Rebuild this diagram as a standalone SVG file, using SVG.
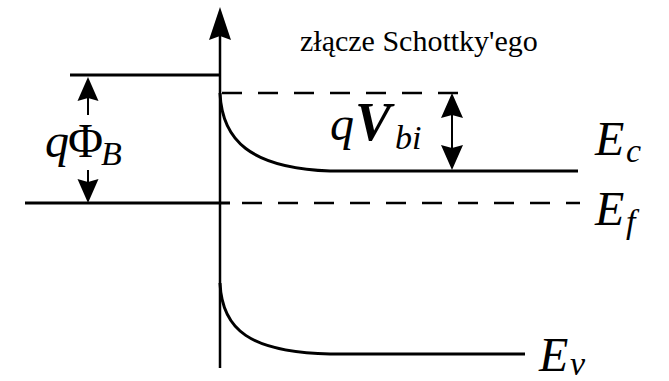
<svg xmlns="http://www.w3.org/2000/svg" width="669" height="381" viewBox="0 0 669 381">
<style>
.ln{stroke:#000;stroke-width:3;fill:none}
.ax{stroke:#000;stroke-width:2.5;fill:none}
.da{stroke:#000;stroke-width:2.5;fill:none;stroke-dasharray:20 16}
.th{stroke:#000;stroke-width:2;fill:none}
.hd{fill:#000;stroke:none}
.m{font-style:italic;font-size:48px;fill:#000}
.s{font-size:34px}
.t{font-size:30px;fill:#000}
</style>
<rect width="669" height="381" fill="#fff"/>
<g id="connectors">
<line class="ax" x1="220" y1="368" x2="220" y2="30"/>
<polygon class="hd" points="220,7 209,40 220,36 231,40"/>
<line class="ln" x1="70" y1="75" x2="220" y2="75"/>
<line class="ln" x1="25" y1="203" x2="230" y2="203"/>
<line class="da" x1="242" y1="203" x2="580" y2="203"/>
<line class="da" x1="222" y1="93" x2="473" y2="93"/>
<path class="ln" d="M220,93 C222,140 250,168 330,171 L578,171"/>
<path class="ln" d="M220,283 C222,330 250,352 330,354 L525,354"/>
<line class="th" x1="88" y1="98" x2="88" y2="115"/>
<polygon class="hd" points="88,77 77.5,101 88,98 98.5,101"/>
<line class="th" x1="88" y1="170" x2="88" y2="182"/>
<polygon class="hd" points="88,203 77.5,179 88,182 98.5,179"/>
<line class="th" x1="452" y1="115" x2="452" y2="150"/>
<polygon class="hd" points="452,93 441,118 452,115 463,118"/>
<polygon class="hd" points="452,170 441,145 452,148 463,145"/>
</g>
<g id="title" font-family="Liberation Serif, DejaVu Serif, serif"><text class="t" x="300" y="51">złącze Schottky'ego</text></g>
<g id="labels" font-family="Liberation Serif, DejaVu Serif, serif">
<g id="label-phiB"><text class="m" x="45" y="157">q<tspan x="68" font-style="normal">Φ</tspan><tspan class="s" x="101" y="165">B</tspan></text></g>
<g id="label-vbi"><text class="m" x="330" y="140">q<tspan x="355" font-weight="bold" font-size="54">V</tspan><tspan class="s" x="395" y="149">bi</tspan></text></g>
<g id="label-ec"><text class="m" x="595" y="155">E<tspan class="s" x="626" y="162">c</tspan></text></g>
<g id="label-ef"><text class="m" x="595" y="225">E<tspan class="s" x="626" y="233">f</tspan></text></g>
<g id="label-ev"><text class="m" x="539" y="371">E<tspan class="s" x="570" y="375">v</tspan></text></g>
</g>
</svg>
